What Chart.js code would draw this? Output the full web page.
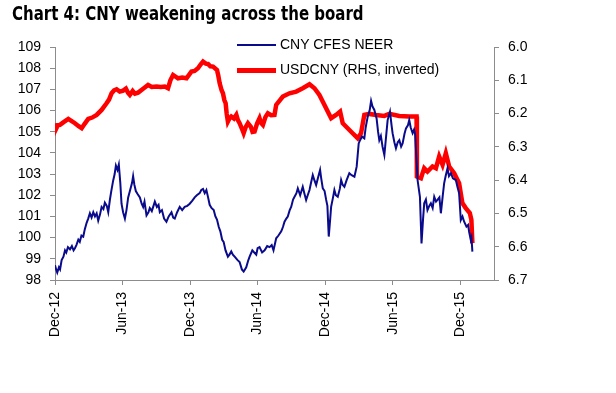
<!DOCTYPE html>
<html>
<head>
<meta charset="utf-8">
<script src="https://cdn.jsdelivr.net/npm/chart.js@4.4.1/dist/chart.umd.min.js"></script>
<style>
  body { margin: 0; background: #fff; }
  #wrap { position: relative; width: 616px; height: 393px; }
  #title { position: absolute; left: 12px; top: 1px; font-family: "DejaVu Sans", sans-serif; font-weight: bold; font-size: 20px; color: #000; white-space: nowrap; transform: scaleX(0.75); transform-origin: 0 0; }
  .leg { position: absolute; left: 237px; font-family: "Liberation Sans", Arial, sans-serif; font-size: 14px; color: #000; white-space: nowrap; }
  .leg span { display: inline-block; width: 39px; vertical-align: middle; margin-right: 4px; }
  canvas { position: absolute; left: 0; top: 0; }
</style>
</head>
<body>
<div id="wrap">
  <canvas id="chart" width="616" height="393"></canvas>
  <div id="title">Chart 4: CNY weakening across the board</div>
  <div class="leg" style="top:36px"><span style="height:2px;background:#0a0a8c"></span>CNY CFES NEER</div>
  <div class="leg" style="top:61px"><span style="height:5px;background:#ff0000"></span>USDCNY (RHS, inverted)</div>
</div>
<script>
// x values are months since Dec-12
const tickMonths = [0, 6, 12, 18, 24, 30, 36];
const tickLabels = ["Dec-12", "Jun-13", "Dec-13", "Jun-14", "Dec-14", "Jun-15", "Dec-15"];

const neerMonths = [0, 0.1, 0.2, 0.35, 0.45, 0.59, 0.75, 0.89, 1.0, 1.15, 1.33, 1.5, 1.65, 1.77, 1.9, 2.07, 2.2, 2.35,
  2.51, 2.65, 2.81, 2.95, 3.10, 3.25, 3.4, 3.55, 3.7, 3.84, 4.0, 4.14, 4.3, 4.43, 4.6, 4.73, 4.88, 5.0,
  5.17, 5.3, 5.41, 5.55, 5.67, 5.8, 5.91, 6.05, 6.21, 6.35, 6.50, 6.7, 6.85, 6.94, 7.05, 7.18, 7.35,
  7.54, 7.7, 7.83, 7.95, 8.13, 8.3, 8.42, 8.6, 8.75, 8.87, 9.05, 9.2, 9.31, 9.5, 9.69, 9.9, 10.1, 10.35,
  10.5, 10.64, 10.85, 11.08, 11.3, 11.52, 11.75, 11.97, 12.2, 12.41, 12.6, 12.85, 13.0, 13.15, 13.3,
  13.45, 13.6, 13.74, 13.9, 14.10, 14.25, 14.39, 14.55, 14.69, 14.85, 14.98, 15.15, 15.36, 15.5, 15.66,
  15.8, 15.96, 16.2, 16.40, 16.6, 16.76, 16.99, 17.15, 17.29, 17.53, 17.7, 17.88, 18.0, 18.17, 18.4,
  18.62, 18.85, 19.06, 19.25, 19.41, 19.65, 19.85, 20.10, 20.25, 20.39, 20.55, 20.68, 20.85, 20.98,
  21.15, 21.28, 21.45, 21.57, 21.78, 22.01, 22.15, 22.31, 22.45, 22.61, 22.75, 22.90, 23.05, 23.20,
  23.4, 23.55, 23.65, 23.79, 23.95, 24.09, 24.2, 24.32, 24.45, 24.53, 24.7, 24.82, 24.95, 25.12, 25.3,
  25.42, 25.55, 25.71, 25.9, 26.15, 26.35, 26.60, 26.80, 26.98, 27.1, 27.28, 27.48, 27.6, 27.78, 27.95,
  28.08, 28.2, 28.37, 28.57, 28.7, 28.81, 28.95, 29.10, 29.26, 29.4, 29.55, 29.76, 29.9, 29.99, 30.15,
  30.29, 30.45, 30.59, 30.75, 30.88, 31.05, 31.18, 31.35, 31.47, 31.6, 31.77, 31.9, 32.00, 32.21, 32.42,
  32.56, 32.7, 32.80, 32.95, 33.09, 33.25, 33.39, 33.55, 33.69, 33.85, 33.98, 34.15, 34.28, 34.45, 34.57,
  34.7, 34.87, 35.0, 35.17, 35.35, 35.61, 35.75, 35.90, 36.05, 36.2, 36.35, 36.55, 36.7, 36.79, 36.94,
  37.0, 37.08];
const neerValues = [98.7, 98.5, 98.35, 98.6, 98.5, 98.94, 99.1, 99.4, 99.3, 99.55, 99.45, 99.6, 99.4, 99.5, 99.65, 99.9, 99.8, 100.1,
  100.05, 100.4, 100.7, 100.9, 101.15, 100.95, 101.2, 101.0, 101.15, 100.8, 101.1, 101.45, 101.35, 101.65, 101.5, 101.2, 101.8, 102.2,
  102.7, 103.0, 103.4, 103.2, 103.45, 102.6, 101.6, 101.2, 100.9, 101.3, 101.9, 102.3, 102.6, 102.9, 102.5, 102.2, 102.05,
  101.9, 101.6, 101.45, 101.7, 101.05, 101.2, 101.4, 101.25, 101.5, 101.7, 101.45, 101.55, 101.2, 101.3, 100.9, 100.75, 101.0, 101.2,
  100.95, 100.9, 101.2, 101.45, 101.3, 101.45, 101.5, 101.6, 101.75, 101.9, 102.0, 102.1, 102.25, 102.3, 102.1,
  102.25, 101.9, 101.55, 101.4, 101.3, 101.0, 100.85, 100.5, 100.3, 99.9, 99.8, 99.4, 99.1, 99.2, 99.35,
  99.2, 99.1, 98.95, 98.85, 98.5, 98.4, 98.6, 98.9, 99.1, 99.4, 99.3, 99.2, 99.5, 99.55, 99.3,
  99.4, 99.6, 99.55, 99.65, 99.4, 99.97, 100.1, 100.3, 100.5, 100.75, 100.9, 101.0, 101.3, 101.45,
  101.8, 101.93, 102.1, 102.33, 102.0, 102.4, 102.1, 101.78, 102.0, 102.25, 102.6, 102.95, 102.7, 102.48,
  102.9, 103.2, 102.8, 102.33, 102.2, 101.78, 101.5, 100.05, 100.9, 101.45, 101.9, 102.25, 102.0, 101.93, 102.3,
  102.72, 102.5, 102.4, 102.7, 103.04, 102.95, 102.88, 103.35, 104.45, 104.6, 104.77, 104.69, 105.2, 105.71, 106.0,
  106.46, 106.2, 106.03, 105.63, 105.0, 104.6, 104.8, 104.29, 103.9, 104.7, 105.55, 105.95, 105.3, 104.93, 104.5,
  104.22, 104.5, 104.6, 104.3, 104.45, 104.9, 105.16, 105.3, 105.55, 105.2, 104.93, 105.1, 104.85, 102.72, 101.93,
  99.73, 100.9, 101.62, 101.8, 101.3, 101.5, 101.62, 101.4, 101.93, 101.7, 101.78, 101.9, 101.15, 102.0, 102.56,
  102.9, 103.27, 102.9, 103.04, 102.8, 102.72, 102.4, 102.1, 100.83, 101.0, 100.75, 100.52, 100.6, 100.28, 99.89,
  100.0, 99.34];

const usdMonths = [0, 0.05, 0.25, 0.44, 0.8, 1.18, 1.45, 1.77, 2.1, 2.37, 2.65, 2.95, 3.3, 3.70, 4.14, 4.58, 4.8, 5.03,
  5.25, 5.47, 5.75, 6.05, 6.3, 6.5, 6.65, 6.9, 7.1, 7.38, 7.8, 8.27, 8.6, 9.02, 9.4, 9.75, 10.04, 10.25,
  10.49, 10.93, 11.3, 11.68, 12.12, 12.4, 12.70, 12.95, 13.15, 13.4, 13.59, 13.8, 14.04, 14.39, 14.5, 14.63,
  14.8, 14.92, 15.05, 15.16, 15.25, 15.36, 15.5, 15.66, 15.9, 16.11, 16.25, 16.40, 16.6, 16.76, 16.95, 17.14,
  17.4, 17.55, 17.73, 17.95, 18.17, 18.3, 18.47, 18.7, 18.91, 19.2, 19.50, 19.65, 20.24, 20.83, 21.43, 22.01,
  22.61, 23.05, 23.49, 23.94, 24.23, 24.53, 24.97, 25.33, 25.56, 26.00, 26.44, 26.89, 27.19, 27.48, 27.93,
  28.52, 29.26, 29.70, 30.59, 31.47, 32.12, 32.15, 32.51, 32.80, 33.09, 33.54, 33.84, 34.13, 34.43, 34.72,
  35.02, 35.46, 35.90, 36.19, 36.49, 36.85, 36.99, 37.08];
const usdValues = [6.229, 6.249, 6.235, 6.234, 6.225, 6.216, 6.222, 6.229, 6.238, 6.244, 6.23, 6.216, 6.212, 6.204, 6.189, 6.169, 6.158, 6.139,
  6.13, 6.127, 6.134, 6.131, 6.125, 6.138, 6.144, 6.132, 6.14, 6.137, 6.126, 6.114, 6.12, 6.119, 6.12, 6.119, 6.124, 6.1,
  6.084, 6.094, 6.092, 6.094, 6.074, 6.072, 6.064, 6.052, 6.044, 6.05, 6.051, 6.058, 6.059, 6.069, 6.085, 6.109,
  6.13, 6.139, 6.16, 6.169, 6.2, 6.224, 6.215, 6.209, 6.215, 6.204, 6.22, 6.229, 6.245, 6.259, 6.24, 6.229,
  6.24, 6.255, 6.254, 6.23, 6.214, 6.228, 6.234, 6.21, 6.199, 6.205, 6.204, 6.174, 6.149, 6.139, 6.134, 6.124,
  6.112, 6.124, 6.144, 6.174, 6.194, 6.214, 6.204, 6.194, 6.229, 6.244, 6.259, 6.274, 6.259, 6.204, 6.201,
  6.204, 6.207, 6.201, 6.207, 6.209, 6.209, 6.389, 6.394, 6.364, 6.374, 6.359, 6.364, 6.329, 6.354, 6.319,
  6.359, 6.379, 6.409, 6.469, 6.484, 6.499, 6.519, 6.589];

const toPoints = (xs, ys) => xs.map((x, i) => ({ x: x, y: ys[i] }));

const axisGray = '#8c8c8c';
const tickFont = { family: "'Liberation Sans', Arial, sans-serif", size: 14 };

new Chart(document.getElementById('chart').getContext('2d'), {
  type: 'line',
  data: {
    datasets: [{
      label: 'CNY CFES NEER',
      data: toPoints(neerMonths, neerValues),
      borderColor: '#0a0a8c',
      borderWidth: 2,
      pointRadius: 0,
      tension: 0,
      yAxisID: 'y'
    }, {
      label: 'USDCNY (RHS, inverted)',
      data: toPoints(usdMonths, usdValues),
      borderColor: '#ff0000',
      borderWidth: 4.5,
      pointRadius: 0,
      tension: 0,
      yAxisID: 'y2'
    }]
  },
  options: {
    responsive: false,
    animation: false,
    layout: { padding: { top: 47, left: 0, right: 0, bottom: 0 } },
    plugins: { legend: { display: false }, tooltip: { enabled: false } },
    scales: {
      x: {
        type: 'linear',
        min: 0,
        max: 39,
        afterFit: s => { s.height = 113; },
        afterBuildTicks: s => { s.ticks = tickMonths.map(v => ({ value: v })); },
        border: { display: true, color: axisGray, width: 1 },
        grid: { display: true, drawOnChartArea: false, drawTicks: true, tickLength: 5, color: axisGray },
        ticks: {
          color: '#000', font: tickFont, minRotation: 90, maxRotation: 90, padding: 7,
          callback: v => tickLabels[tickMonths.indexOf(v)]
        }
      },
      y: {
        position: 'left',
        min: 98,
        max: 109,
        afterFit: s => { s.width = 55; },
        border: { display: true, color: axisGray, width: 1 },
        grid: { display: true, drawOnChartArea: false, drawTicks: true, tickLength: 5, color: axisGray },
        ticks: { color: '#000', font: tickFont, stepSize: 1, padding: 9 }
      },
      y2: {
        position: 'right',
        min: 6.0,
        max: 6.7,
        reverse: true,
        afterFit: s => { s.width = 122; },
        border: { display: true, color: axisGray, width: 1 },
        grid: { display: true, drawOnChartArea: false, drawTicks: true, tickLength: 5, color: axisGray },
        ticks: { color: '#000', font: tickFont, stepSize: 0.1, padding: 9, callback: v => v.toFixed(1) }
      }
    }
  }
});
</script>
</body>
</html>
